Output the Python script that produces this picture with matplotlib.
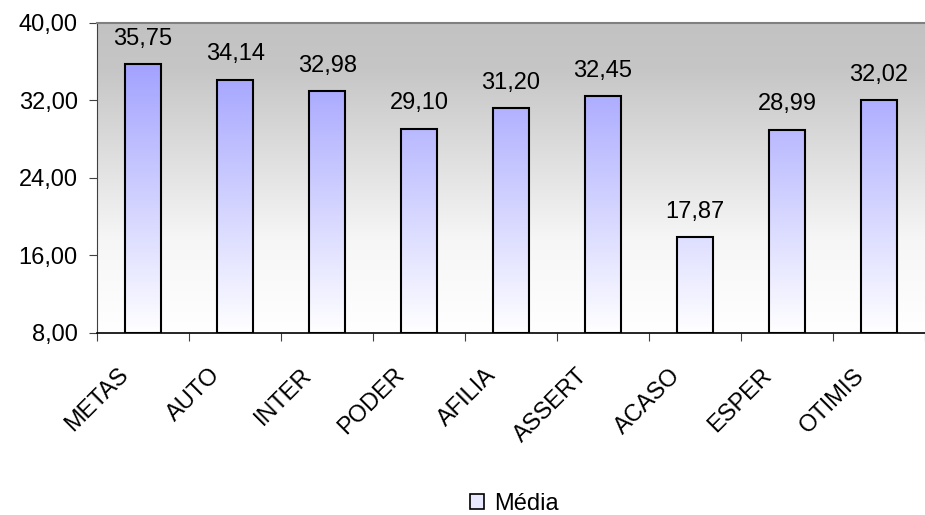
import numpy as np
import matplotlib.pyplot as plt
from matplotlib.colors import LinearSegmentedColormap
from matplotlib.patches import Patch

plt.rcParams['font.family'] = ['Liberation Sans', 'DejaVu Sans']

# data
categories = ['METAS', 'AUTO', 'INTER', 'PODER', 'AFILIA', 'ASSERT', 'ACASO', 'ESPER', 'OTIMIS']
media = [35.75, 34.14, 32.98, 29.10, 31.20, 32.45, 17.87, 28.99, 32.02]
y_ticks = [8, 16, 24, 32, 40]

fig = plt.figure(figsize=(9.25, 5.15), dpi=100)
ax = fig.add_axes([0.105, 0.3534, 0.895, 0.602])

n = len(categories)
x = np.arange(n)
ax.set_xlim(-0.5, n - 0.5)
ax.set_ylim(8, 40)

# gray background gradient (top gray -> bottom white)
bg_cmap = LinearSegmentedColormap.from_list(
    'bg', [(0, '#ffffff'), (0.3, '#f6f6f6'), (0.85, '#c6c6c6'), (1, '#c2c2c2')])
grad = np.linspace(0, 1, 256).reshape(-1, 1)
ax.imshow(grad, cmap=bg_cmap, aspect='auto', origin='lower',
          extent=[-0.5, n - 0.5, 8, 40], zorder=0)

# bars with blue->white gradient in axis coordinates
bar_cmap = LinearSegmentedColormap.from_list('bar', ['#ffffff', '#9494ff'])
bars = ax.bar(x, [v - 8 for v in media], bottom=8, width=0.39,
              facecolor='none', edgecolor='black', linewidth=1.5, zorder=3)
for b in bars:
    im = ax.imshow(grad, cmap=bar_cmap, aspect='auto', origin='lower',
                   extent=[-0.5, n - 0.5, 8, 40], zorder=2)
    im.set_clip_path(b)

for xi, v in zip(x, media):
    ax.annotate(f'{v:.2f}'.replace('.', ','), (xi, v), xytext=(0, 14),
                textcoords='offset points', ha='center', va='baseline', fontsize=17)

ax.set_yticks(y_ticks)
ax.set_yticklabels([f'{t:.2f}'.replace('.', ',') for t in y_ticks], fontsize=17)
ax.set_xticks(np.arange(n + 1) - 0.5)
ax.set_xticklabels([])
# category labels sit a little left of the bar centre (invisible minor ticks)
ax.set_xticks(x - 0.2, minor=True)
ax.set_xticklabels(categories, minor=True, rotation=45, ha='right', va='center',
                   rotation_mode='anchor', fontsize=17)
ax.tick_params(axis='x', which='minor', length=0, pad=28)
ax.tick_params(axis='x', which='major', length=6, direction='out', color='#404040')
ax.tick_params(axis='y', length=6, direction='out', color='#404040', pad=8)

ax.spines['top'].set_color('#808080')
ax.spines['top'].set_linewidth(1.5)
ax.spines['left'].set_color('#404040')
ax.spines['bottom'].set_color('black')
ax.spines['bottom'].set_linewidth(1.2)
ax.spines['right'].set_visible(False)

handle = Patch(facecolor='#e8e8ff', edgecolor='black', linewidth=1.2)
fig.legend([handle], ['Média'], loc='center', bbox_to_anchor=(0.556, 0.022),
           frameon=False, fontsize=17, handlelength=0.6, handleheight=0.6,
           handletextpad=0.4, borderpad=0)

fig.savefig('out.png', dpi=100)
